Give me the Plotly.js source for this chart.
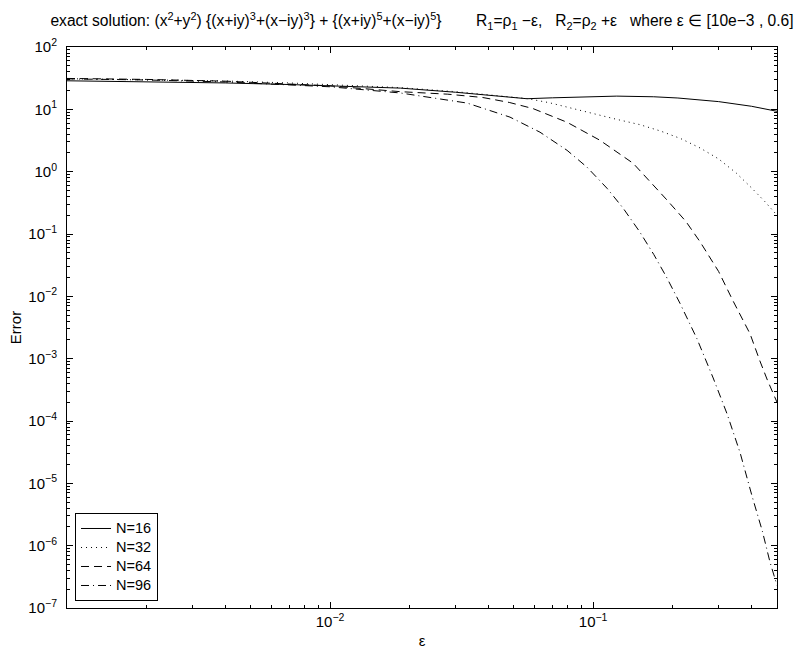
<!DOCTYPE html>
<html>
<head>
<meta charset="utf-8">
<script src="https://cdn.plot.ly/plotly-3.0.1.min.js"></script>
<style>html,body{margin:0;padding:0;background:#fff;}#chart{width:803px;height:654px;}</style>
</head>
<body>
<div id="chart"></div>
<script>
// ---- data ----
const epsN16 = [0.001, 0.002, 0.004, 0.007, 0.01, 0.0185, 0.03, 0.045, 0.056, 0.07, 0.09, 0.123, 0.17, 0.21, 0.3, 0.4, 0.5];
const errN16 = [28.7, 27.8, 26.5, 25, 24, 21.9, 18.8, 16.2, 14.8, 15.3, 15.9, 16.3, 15.9, 15.2, 13.3, 11.2, 9.3];

const epsN32 = [0.001, 0.002, 0.004, 0.007, 0.01, 0.0185, 0.03, 0.045, 0.056, 0.068, 0.0796, 0.1, 0.123, 0.15, 0.18, 0.215, 0.255, 0.3, 0.35, 0.4, 0.45, 0.5];
const errN32 = [31, 30, 28.5, 26.5, 25, 22.3, 19.2, 16.5, 14.9, 12.8, 10.8, 8.6, 6.9, 5.7, 4.5, 3.4, 2.4, 1.6, 0.95, 0.55, 0.33, 0.2];

const epsN64 = [0.001, 0.002, 0.004, 0.007, 0.01, 0.0185, 0.028, 0.038, 0.048, 0.059, 0.0796, 0.106, 0.142, 0.191, 0.225, 0.255, 0.3, 0.34, 0.37, 0.395, 0.43, 0.46, 0.5];
const errN64 = [31.3, 30.2, 28.3, 25.8, 23.8, 19.2, 17.5, 15.5, 12.9, 10.3, 6.2, 3.2, 1.36, 0.35, 0.16, 0.075, 0.025, 8.5e-3, 4.3e-3, 2.5e-3, 9.3e-4, 4.5e-4, 2.0e-4];

const epsN96 = [0.001, 0.002, 0.004, 0.007, 0.01, 0.0185, 0.0332, 0.0483, 0.0628, 0.0796, 0.0948, 0.113, 0.13, 0.15, 0.17, 0.19, 0.214, 0.248, 0.286, 0.323, 0.362, 0.403, 0.44, 0.47, 0.5];
const errN96 = [30.8, 29.6, 27.5, 25, 23, 18.3, 12.6, 7.5, 4.3, 2.2, 1.18, 0.54, 0.26, 0.11, 0.047, 0.0204, 7.7e-3, 2.1e-3, 4.9e-4, 1.3e-4, 3.1e-5, 6e-6, 1.7e-6, 5.5e-7, 2.3e-7];

const seriesNames = ['N=16', 'N=32', 'N=64', 'N=96'];

const xTickVals = [0.01, 0.1];
const xTickText = ['10<sup>−2</sup>', '10<sup>−1</sup>'];
const yTickVals = [1e-7, 1e-6, 1e-5, 1e-4, 1e-3, 1e-2, 1e-1, 1, 10, 100];
const yTickText = ['10<sup>−7</sup>', '10<sup>−6</sup>', '10<sup>−5</sup>', '10<sup>−4</sup>', '10<sup>−3</sup>',
                   '10<sup>−2</sup>', '10<sup>−1</sup>', '10<sup>0</sup>', '10<sup>1</sup>', '10<sup>2</sup>'];

const titleText = 'exact solution: (x<sup>2</sup>+y<sup>2</sup>) {(x+iy)<sup>3</sup>+(x−iy)<sup>3</sup>} + {(x+iy)<sup>5</sup>+(x−iy)<sup>5</sup>}' +
  '\u00A0\u00A0\u00A0\u00A0\u00A0\u00A0\u00A0\u00A0R<sub>1</sub>=ρ<sub>1</sub> −ε,\u00A0\u00A0\u00A0R<sub>2</sub>=ρ<sub>2</sub> +ε\u00A0\u00A0\u00A0where ε ∈ [10e−3 , 0.6]';

// minor tick positions (2..9 within each decade)
function minorTicks(lo, hi) {
  const out = [];
  for (let d = lo; d <= hi; d++) {
    for (let m = 2; m <= 9; m++) out.push(m * Math.pow(10, d));
  }
  return out;
}

const FONT = 'Liberation Sans, Arial, Helvetica, sans-serif';
const legendLabel = s => '<span style="font-size:14.5px">' + s + '</span>';

const traces = [
  {x: epsN16, y: errN16, name: legendLabel(seriesNames[0]), mode: 'lines', line: {color: '#000', width: 1, dash: 'solid'}},
  {x: epsN32, y: errN32, name: legendLabel(seriesNames[1]), mode: 'lines', line: {color: '#000', width: 1, dash: '1px,4px'}},
  {x: epsN64, y: errN64, name: legendLabel(seriesNames[2]), mode: 'lines', line: {color: '#000', width: 1, dash: '8px,5px'}},
  {x: epsN96, y: errN96, name: legendLabel(seriesNames[3]), mode: 'lines', line: {color: '#000', width: 1, dash: '8px,4px,1px,4px'}}
];

const axisCommon = {
  type: 'log',
  showline: true, linecolor: '#000', linewidth: 1,
  mirror: 'allticks',
  ticks: 'inside', ticklen: 6, tickwidth: 1, tickcolor: '#000',
  showgrid: false, zeroline: false,
  tickmode: 'array',
  tickfont: {family: FONT, size: 15, color: '#000'}
};

const layout = {
  width: 803, height: 654,
  paper_bgcolor: '#fff', plot_bgcolor: '#fff',
  margin: {l: 67, r: 26, t: 47, b: 46, pad: 0},
  font: {family: FONT, size: 15, color: '#000'},
  title: {text: titleText, font: {family: FONT, size: 15.6, color: '#000'},
          x: 0.5, xref: 'paper', xanchor: 'center', y: 1 - 21 / 654, yref: 'container', yanchor: 'middle'},
  xaxis: Object.assign({}, axisCommon, {
    range: [-3, Math.log10(0.5)],
    tickvals: xTickVals, ticktext: xTickText,
    minor: {tickmode: 'array', tickvals: minorTicks(-3, -1).filter(v => v <= 0.5), ticks: 'inside', ticklen: 3, tickcolor: '#000', tickwidth: 1},
    title: {text: 'ε', font: {family: FONT, size: 15, color: '#000'}, standoff: 6}
  }),
  yaxis: Object.assign({}, axisCommon, {
    range: [-7, 2],
    tickvals: yTickVals, ticktext: yTickText,
    ticklabelstandoff: 6,
    minor: {tickmode: 'array', tickvals: minorTicks(-7, 1), ticks: 'inside', ticklen: 3, tickcolor: '#000', tickwidth: 1},
    title: {text: 'Error', font: {family: FONT, size: 15, color: '#000'}, standoff: 3}
  }),
  showlegend: true,
  legend: {x: 0.0113, y: 0.0125, xanchor: 'left', yanchor: 'bottom',
           bgcolor: '#fff', bordercolor: '#000', borderwidth: 1,
           font: {family: FONT, size: 11.5, color: '#000'}, tracegroupgap: 0}
};

Plotly.newPlot('chart', traces, layout, {displayModeBar: false, staticPlot: true});
</script>
</body>
</html>
